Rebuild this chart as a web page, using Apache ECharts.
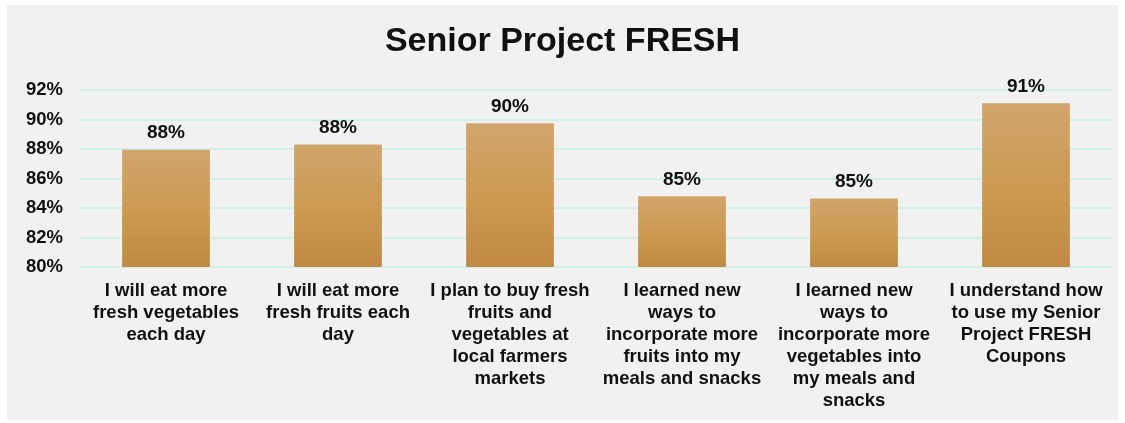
<!DOCTYPE html>
<html>
<head>
<meta charset="utf-8">
<script src="https://cdn.jsdelivr.net/npm/echarts@6/dist/echarts.min.js"></script>
<style>
  html, body { margin: 0; padding: 0; background: #ffffff; }
  #chart {
    position: absolute;
    left: 7px;
    top: 5px;
    width: 1111px;
    height: 415px;
    background: #f1f1f1;
  }
</style>
</head>
<body>
<div id="chart"></div>
<script>
// chart data
var categories = [
  "I will eat more\nfresh vegetables\neach day",
  "I will eat more\nfresh fruits each\nday",
  "I plan to buy fresh\nfruits and\nvegetables at\nlocal farmers\nmarkets",
  "I learned new\nways to\nincorporate more\nfruits into my\nmeals and snacks",
  "I learned new\nways to\nincorporate more\nvegetables into\nmy meals and\nsnacks",
  "I understand how\nto use my Senior\nProject FRESH\nCoupons"
];
var values = [87.95, 88.3, 89.75, 84.8, 84.65, 91.1];
var valueLabels = ["88%", "88%", "90%", "85%", "85%", "91%"];

var myChart = echarts.init(document.getElementById("chart"));
myChart.setOption({
  animation: false,
  title: {
    text: "Senior Project FRESH",
    left: "center",
    top: 20,
    padding: [0, 0, 0, 17],
    textStyle: {
      fontFamily: "Liberation Sans",
      fontSize: 34,
      fontWeight: "bold",
      color: "#111111"
    }
  },
  grid: {
    left: 73,
    right: 6,
    top: 85,
    height: 177
  },
  xAxis: {
    type: "category",
    data: categories,
    axisLine: { show: false },
    axisTick: { show: false },
    axisLabel: {
      interval: 0,
      margin: 13,
      fontFamily: "Liberation Sans",
      fontSize: 18.5,
      fontWeight: "bold",
      color: "#111111",
      lineHeight: 22
    }
  },
  yAxis: {
    type: "value",
    min: 80,
    max: 92,
    interval: 2,
    axisLine: { show: false },
    axisTick: { show: false },
    axisLabel: {
      formatter: "{value}%",
      margin: 17,
      fontFamily: "Liberation Sans",
      fontSize: 18.5,
      fontWeight: "bold",
      color: "#111111"
    },
    splitLine: {
      lineStyle: { color: "#d1eee7", width: 2 }
    }
  },
  series: [
    {
      type: "bar",
      data: values,
      barWidth: "51%",
      itemStyle: {
        color: new echarts.graphic.LinearGradient(0, 0, 0, 1, [
          { offset: 0, color: "#d1a46b" },
          { offset: 0.5, color: "#cc9a52" },
          { offset: 1, color: "#c08a41" }
        ])
      },
      label: {
        show: true,
        position: "top",
        distance: 7,
        formatter: function (p) {
          return valueLabels[p.dataIndex];
        },
        fontFamily: "Liberation Sans",
        fontSize: 19,
        fontWeight: "bold",
        color: "#111111"
      }
    }
  ]
});
</script>
</body>
</html>
